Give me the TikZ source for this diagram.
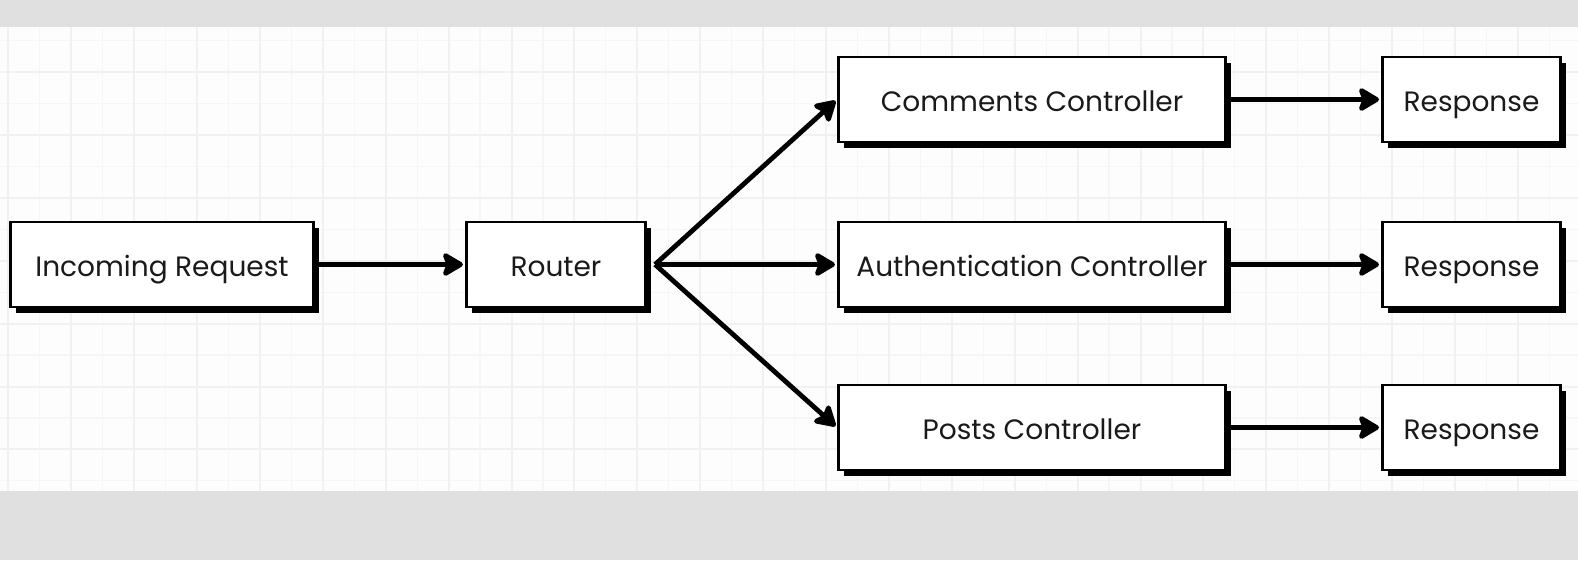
\documentclass[tikz,border=0pt]{standalone}
\usepackage{fontspec}
\setmainfont{Poppins}
\usetikzlibrary{arrows.meta,shadows}
\definecolor{bandgray}{HTML}{E0E0E0}
\definecolor{paper}{HTML}{FDFDFD}
\definecolor{gridminor}{HTML}{F6F6F6}
\definecolor{gridmajor}{HTML}{F1F1F1}
\definecolor{ink}{HTML}{1A1A1A}
\begin{document}
\begin{tikzpicture}[x=1pt,y=-1pt,
  box/.style={rectangle, draw=black, line width=2.6pt, fill=white, minimum height=85pt,
    inner sep=0pt, text height=30pt, text depth=6pt, text=ink, font=\fontsize{28}{32}\selectfont,
    drop shadow={shadow xshift=5.5pt, shadow yshift=-5.5pt, fill=black, opacity=1}},
  arr/.style={draw=black, line width=4.8pt, shorten >=2pt,
    -{Stealth[length=24pt,width=28pt,inset=5pt,round]}},
  gmin/.style={draw=gridminor, line width=1.2pt},
  gmaj/.style={draw=gridmajor, line width=2pt}
]
\useasboundingbox (0,0) rectangle (1578,560);
% background
\fill[bandgray] (0,0) rectangle (1578,560);
\fill[paper] (0,27) rectangle (1578,491);
\foreach \k in {1,3,...,49} {\draw[gmin] ({8.3+\k*31.45},27) -- ({8.3+\k*31.45},491);}
\foreach \k in {0,2,...,14} {\draw[gmin] (0,{40.55+\k*31.45}) -- (1578,{40.55+\k*31.45});}
\foreach \k in {0,2,...,48} {\draw[gmaj] ({8.3+\k*31.45},27) -- ({8.3+\k*31.45},491);}
\foreach \k in {1,3,...,13} {\draw[gmaj] (0,{40.55+\k*31.45}) -- (1578,{40.55+\k*31.45});}

% nodes
\node[box, minimum width=303.5pt] (ir) at (162,264.5) {Incoming Request};
\node[box, minimum width=179.5pt] (router) at (556,264.5) {Router};
\node[box, minimum width=387.5pt] (cc) at (1032,99.5) {Comments Controller};
\node[box, minimum width=387.5pt] (ac) at (1032,264.5) {Authentication Controller};
\node[box, minimum width=387.5pt] (pc) at (1032,427.5) {Posts Controller};
\node[box, minimum width=178.5pt] (r1) at (1471.5,99.5) {Response};
\node[box, minimum width=178.5pt] (r2) at (1471.5,264.5) {Response};
\node[box, minimum width=178.5pt] (r3) at (1471.5,427.5) {Response};
\coordinate (fan) at (655,264.5);

% connectors
\draw[arr] (ir) -- (router);
\draw[arr] (fan) -- (cc.west);
\draw[arr] (fan) -- (ac.west);
\draw[arr] (fan) -- (pc.west);
\draw[arr] (cc) -- (r1);
\draw[arr] (ac) -- (r2);
\draw[arr] (pc) -- (r3);
\end{tikzpicture}
\end{document}
